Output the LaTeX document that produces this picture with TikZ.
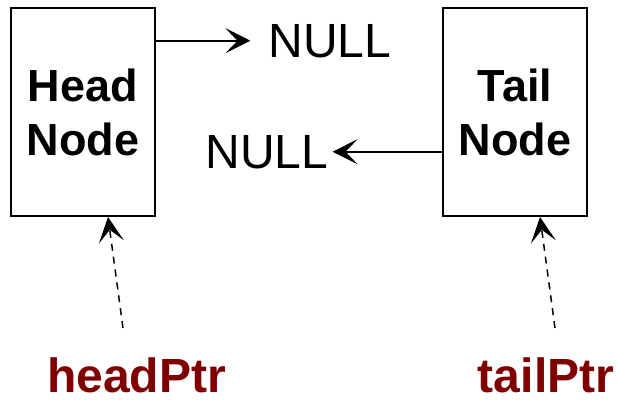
\documentclass[tikz,border=0pt]{standalone}
\usepackage{fontspec}
\setmainfont{Liberation Sans}
\usetikzlibrary{arrows.meta}
\definecolor{ptrred}{RGB}{128,0,0}
\begin{document}
\begin{tikzpicture}[x=1pt,y=-1pt,
  box/.style={draw, line width=2pt, minimum width=144pt, minimum height=208pt, inner sep=0pt, align=center, font=\fontsize{45}{54}\selectfont\bfseries},
  nulltext/.style={inner ysep=0pt, anchor=base, font=\fontsize{48}{58}\selectfont},
  ptrlabel/.style={inner sep=0pt, anchor=base, text=ptrred, font=\fontsize{48}{58}\selectfont\bfseries},
  link/.style={line width=2pt, -{Stealth[length=25pt,width=25pt,inset=12pt]}},
  ptr/.style={line width=1.5pt, dash pattern=on 7pt off 6pt, -{Stealth[length=25pt,width=25pt,inset=12pt]}}]
\useasboundingbox (0,0) rectangle (617,399);
\node[box] (hbox) at (83,112) {Head\\Node};
\node[box] (tbox) at (515,112) {Tail\\Node};
\node[nulltext, inner xsep=18pt] (null1) at (330,57) {NULL};
\node[nulltext, inner xsep=4pt] (null2) at (267,168) {NULL};
\node[ptrlabel] (hptr) at (136.5,392) {headPtr};
\node[ptrlabel] (tptr) at (546,392) {tailPtr};
\coordinate (hstart) at (123,328);
\coordinate (tstart) at (555,328);
\draw[link] (hbox.east |- null1.west) -- (null1.west);
\draw[link] (tbox.west |- null2.east) -- (null2.east);
\draw[ptr] (hstart) -- ([xshift=25pt]hbox.south);
\draw[ptr] (tstart) -- ([xshift=25pt]tbox.south);
\end{tikzpicture}
\end{document}
